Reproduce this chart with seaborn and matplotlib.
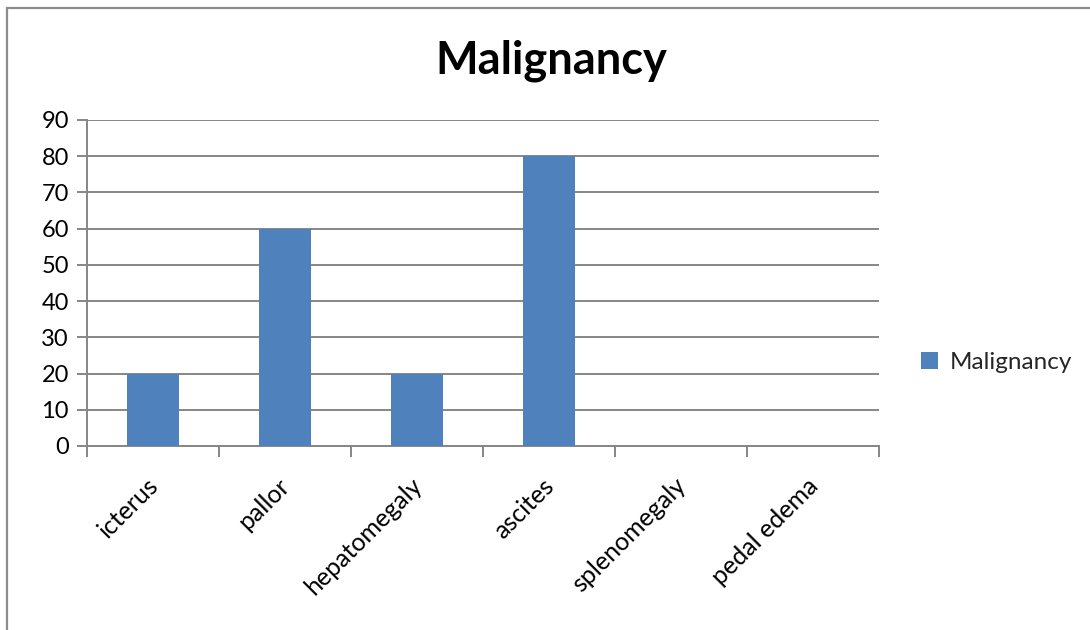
import matplotlib
matplotlib.use("Agg")
import matplotlib.pyplot as plt
from matplotlib.patches import Rectangle
from matplotlib.transforms import ScaledTranslation
import pandas as pd
import seaborn as sns

categories = ["icterus", "pallor", "hepatomegaly", "ascites", "splenomegaly", "pedal edema"]
values = [20, 60, 20, 80, 0, 0]
series_name = "Malignancy"
y_ticks = [0, 10, 20, 30, 40, 50, 60, 70, 80, 90]

df = pd.DataFrame({"symptom": categories, "percent": values})

sns.set_theme(style="white")
plt.rcParams["font.family"] = ["Lato", "DejaVu Sans"]

BAR = "#4F81BD"
GRID = "#868686"

fig = plt.figure(figsize=(10.9, 6.3), dpi=100)
ax = fig.add_axes([0.0798, 0.2921, 0.7266, 0.5175])

sns.barplot(data=df, x="symptom", y="percent", color=BAR, width=0.4,
            saturation=1, label=series_name, ax=ax, zorder=3,
            linewidth=0, edgecolor="none", legend=False)
if ax.get_legend() is not None:
    ax.get_legend().remove()

ax.set_ylim(0, 90)
ax.set_xlim(-0.5, len(categories) - 0.5)
ax.set_yticks(y_ticks)
ax.set_yticklabels([str(t) for t in y_ticks], fontsize=17, color="black")
ax.set_xlabel("")
ax.set_ylabel("")

# horizontal gridlines behind the bars
ax.yaxis.grid(True, color=GRID, linewidth=1.4, zorder=0)
ax.set_axisbelow(True)

for side in ["top", "right"]:
    ax.spines[side].set_visible(False)
for side in ["left", "bottom"]:
    ax.spines[side].set_color(GRID)
    ax.spines[side].set_linewidth(1.4)

ax.tick_params(axis="y", which="major", direction="out", length=7, width=1.4,
               color=GRID, left=True, pad=6)

# category labels at centres, tick marks at category boundaries
ax.set_xticks(range(len(categories)))
ax.set_xticklabels(categories, rotation=45, ha="right", rotation_mode="anchor",
                   fontsize=18, color="black")
ax.tick_params(axis="x", which="major", length=0, pad=20)
shift = ScaledTranslation(-0.07, 0, fig.dpi_scale_trans)
for lbl in ax.get_xticklabels():
    lbl.set_transform(lbl.get_transform() + shift)
ax.set_xticks([i - 0.5 for i in range(len(categories) + 1)], minor=True)
ax.tick_params(axis="x", which="minor", direction="out", length=8, width=1.4,
               color=GRID, bottom=True)

fig.text(0.506, 0.903, series_name, ha="center", va="center",
         fontsize=32.5, fontweight="bold", color="black")

handles = [p for p in ax.patches[:1]]
fig.legend(handles, [series_name], loc="center left", bbox_to_anchor=(0.836, 0.424),
           frameon=False, fontsize=17.5, handlelength=0.7, handleheight=0.7,
           handletextpad=0.5, borderaxespad=0)

# outer chart frame
fig.patches.append(Rectangle((7 / 1090, -0.1), 1.2, 1 - 8 / 630 + 0.1,
                             transform=fig.transFigure, fill=False,
                             edgecolor="#8C8C8C", linewidth=1.6, zorder=10))

fig.savefig("out.png", dpi=100, facecolor="white")
